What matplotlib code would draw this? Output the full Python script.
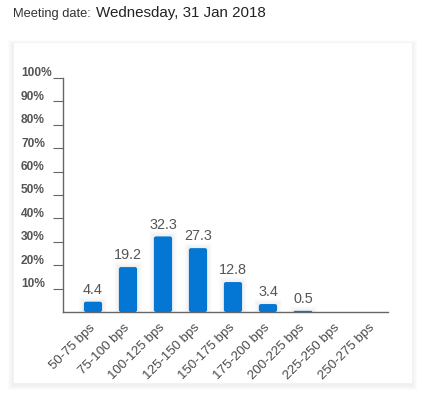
import matplotlib as mpl
mpl.use('Agg')
import matplotlib.pyplot as plt
from matplotlib.patches import Rectangle, FancyBboxPatch
from matplotlib.transforms import ScaledTranslation

plt.rcParams['font.family'] = ['Liberation Sans', 'DejaVu Sans']

# data
buckets = ['50-75 bps', '75-100 bps', '100-125 bps', '125-150 bps',
           '150-175 bps', '175-200 bps', '200-225 bps', '225-250 bps',
           '250-275 bps']
probs = [4.4, 19.2, 32.3, 27.3, 12.8, 3.4, 0.5, 0, 0]
yticks = [10, 20, 30, 40, 50, 60, 70, 80, 90, 100]
ylabels = ['%d%%' % t for t in yticks]

W, H = 426, 394
fig = plt.figure(figsize=(W / 100, H / 100), dpi=100)
fig.patch.set_facecolor('white')


def px(x0, y0, x1, y1):
    # pixel box (top-left origin) -> figure fraction rect
    return [x0 / W, 1 - y1 / H, (x1 - x0) / W, (y1 - y0) / H]


# card with a soft shadow (heavier towards the bottom)
for g in range(5, 0, -1):
    r = px(13 - g, 42 - g + 3, 412 + g, 383 + g + 2)
    fig.patches.append(Rectangle((r[0], r[1]), r[2], r[3], transform=fig.transFigure,
                                 facecolor='black', alpha=0.01, edgecolor='none', zorder=0))
r = px(13, 42, 412, 383)
fig.patches.append(Rectangle((r[0], r[1]), r[2], r[3], transform=fig.transFigure,
                             facecolor='white', edgecolor='#f0f0f0', lw=0.5, zorder=1))

# header
fig.text(13 / W, 1 - 14 / H, 'Meeting date: ', fontsize=9.3, color='#333333',
         va='center', ha='left')
fig.text(96 / W, 1 - 13.5 / H, 'Wednesday, 31 Jan 2018', fontsize=10.9,
         color='#222222', va='center', ha='left')

ax = fig.add_axes(px(63, 78, 388, 312))
ax.set_facecolor('none')
ax.set_zorder(2)
x = list(range(len(buckets)))
ax.set_xlim(-0.857, 8.43)
ax.set_ylim(0, 100)

bars = ax.bar(x, probs, width=0.52, color='none', edgecolor='none')
for b, v in zip(bars, probs):
    if v <= 0:
        continue
    bx, bw = b.get_x(), b.get_width()
    # faint glow around bars
    for k in range(5):
        e = 0.03 * (5 - k)
        ax.add_patch(Rectangle((bx - e, 0), bw + 2 * e, v + e * 35 / 2.34,
                               facecolor='black', alpha=0.012, edgecolor='none', zorder=1))
    rad = min(0.06, v * 2.34 / 35 / 2)
    ax.add_patch(FancyBboxPatch((bx, 0), bw, v,
                                boxstyle='round,pad=0,rounding_size=%f' % rad,
                                mutation_aspect=35 / 2.34,
                                facecolor='#0477d4', edgecolor='none', zorder=3))
    ax.text(b.get_x() + bw / 2, v + 2.0, '%.1f' % v, ha='center', va='bottom',
            fontsize=10.4, color='#555555', zorder=4)

for s in ['top', 'right']:
    ax.spines[s].set_visible(False)
for s in ['left', 'bottom']:
    ax.spines[s].set_color('#666666')
    ax.spines[s].set_linewidth(1.0)

ax.set_yticks(yticks)
ax.set_yticklabels(ylabels, fontsize=8.6, fontweight='bold', color='#555555')
ax.tick_params(axis='y', direction='out', length=7.2, width=0.8,
               color='#666666', pad=23)
for lab in ax.get_yticklabels():
    lab.set_ha('left')
    lab.set_va('bottom')
    lab.set_transform(lab.get_transform() + ScaledTranslation(0, -1 / 72, fig.dpi_scale_trans))

ax.set_xticks(x)
ax.set_xticklabels(buckets, rotation=45, ha='right', va='center',
                   rotation_mode='anchor', fontsize=9.5, color='#4a4a4a')
ax.tick_params(axis='x', length=0, pad=10)

plt.savefig('out.png', dpi=100)
